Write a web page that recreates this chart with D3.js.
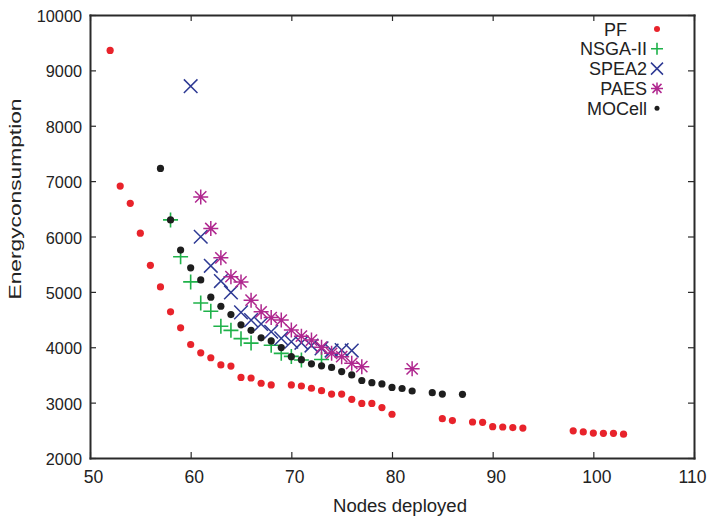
<!DOCTYPE html>
<html>
<head>
<meta charset="utf-8">
<script src="https://cdn.jsdelivr.net/npm/d3@7"></script>
<style>
  body { margin: 0; background: #fff; }
  text { font-family: "Liberation Sans", Arial, sans-serif; fill: #222; }
</style>
</head>
<body>
<svg id="chart" width="709" height="520"></svg>
<script>
// data (nodes deployed -> energy consumption)
const pfX = [52, 53, 54, 55, 56, 57, 58, 59, 60, 61, 62, 63, 64, 65, 66, 67, 68, 70, 71, 72, 73, 74, 75, 76, 77, 78, 79, 80, 85, 86, 88, 89, 90, 91, 92, 93, 98, 99, 100, 101, 102, 103];
const pfY = [9360, 6910, 6600, 6060, 5480, 5090, 4640, 4350, 4050, 3900, 3810, 3680, 3660, 3455, 3445, 3350, 3320, 3320, 3300, 3260, 3215, 3155, 3155, 3060, 2985, 2985, 2910, 2790, 2710, 2675, 2650, 2645, 2565, 2560, 2550, 2540, 2490, 2470, 2450, 2445, 2445, 2430];

const nsgaX = [58, 59, 60, 61, 62, 63, 64, 65, 66, 68, 69, 70, 71, 73];
const nsgaY = [6300, 5635, 5180, 4800, 4650, 4380, 4305, 4155, 4075, 4035, 3890, 3835, 3770, 3780];

const speaX = [60, 61, 62, 63, 64, 65, 66, 67, 68, 69, 70, 71, 72, 73, 74, 75, 76];
const speaY = [8715, 5995, 5470, 5195, 4990, 4630, 4490, 4420, 4280, 4160, 4100, 4080, 4030, 3980, 3940, 3950, 3940];

const paesX = [61, 62, 63, 64, 65, 66, 67, 68, 69, 70, 71, 72, 73, 74, 75, 76, 77, 82];
const paesY = [6715, 6145, 5615, 5275, 5180, 4850, 4640, 4535, 4490, 4310, 4200, 4130, 4000, 3890, 3830, 3710, 3650, 3610];

const mocX = [57, 58, 59, 60, 61, 62, 63, 64, 65, 66, 67, 68, 69, 70, 71, 72, 73, 74, 75, 76, 77, 78, 79, 80, 81, 82, 84, 85, 87];
const mocY = [7230, 6300, 5755, 5435, 5215, 4905, 4740, 4590, 4405, 4305, 4170, 4115, 3995, 3830, 3775, 3700, 3665, 3635, 3560, 3500, 3400, 3360, 3338, 3275, 3255, 3210, 3180, 3155, 3150];

const xTicks = [50, 60, 70, 80, 90, 100, 110];
const yTicks = [2000, 3000, 4000, 5000, 6000, 7000, 8000, 9000, 10000];

const series = [
  { name: "PF", xs: pfX, ys: pfY, shape: "dot", color: "#e8232b" },
  { name: "NSGA-II", xs: nsgaX, ys: nsgaY, shape: "plus", color: "#1fb24a" },
  { name: "SPEA2", xs: speaX, ys: speaY, shape: "cross", color: "#2e3a94" },
  { name: "PAES", xs: paesX, ys: paesY, shape: "star", color: "#b0288f" },
  { name: "MOCell", xs: mocX, ys: mocY, shape: "dot", color: "#1e1e1e" }
];

const svg = d3.select("#chart");
const plotL = 90, plotR = 694, plotT = 15, plotB = 458;

const x = d3.scaleLinear().domain([50, 110]).range([plotL, plotR]);
const y = d3.scaleLinear().domain([2000, 10000]).range([plotB, plotT]);

// axes, ticks pointing inwards on every side
function styleAxis(g) {
  g.selectAll("path").attr("stroke", "#2a2a2a").attr("stroke-width", 2);
  g.selectAll("line").attr("stroke", "#2a2a2a").attr("stroke-width", 1.2);
  g.selectAll("text").attr("fill", "#222")
    .attr("font-family", "'Liberation Sans', Arial, sans-serif");
}

const xAxis = svg.append("g").attr("transform", `translate(0,${plotB})`)
  .call(d3.axisBottom(x).tickValues(xTicks).tickFormat(d3.format("d")).tickSizeInner(-6).tickSizeOuter(0))
  .call(styleAxis);
xAxis.selectAll("text").attr("font-size", 17.5).attr("y", 25).attr("dy", null)
  .attr("dx", d => d === 110 ? -2 : 3);

svg.append("g").attr("transform", `translate(0,${plotT})`)
  .call(d3.axisTop(x).tickValues(xTicks).tickSizeInner(-6).tickSizeOuter(0).tickFormat(""))
  .call(styleAxis);

const yAxis = svg.append("g").attr("transform", `translate(${plotL},0)`)
  .call(d3.axisLeft(y).tickValues(yTicks).tickFormat(d3.format("d")).tickSizeInner(-6).tickSizeOuter(0).tickPadding(8))
  .call(styleAxis);
yAxis.selectAll("text").attr("font-size", 16.3).attr("dy", "0.4em");

svg.append("g").attr("transform", `translate(${plotR},0)`)
  .call(d3.axisRight(y).tickValues(yTicks).tickSizeInner(-6).tickSizeOuter(0).tickFormat(""))
  .call(styleAxis);

svg.selectAll(".domain").attr("stroke-linecap", "square");

// axis titles
svg.append("text")
  .attr("x", 400).attr("y", 512)
  .attr("text-anchor", "middle").attr("font-size", 18)
  .attr("textLength", 134).attr("lengthAdjust", "spacingAndGlyphs")
  .text("Nodes deployed");
svg.append("text")
  .attr("transform", "translate(21,199) rotate(-90)")
  .attr("text-anchor", "middle").attr("font-size", 16.5)
  .attr("textLength", 201).attr("lengthAdjust", "spacingAndGlyphs")
  .text("Energyconsumption");

// marker drawing
function drawMarker(g, shape, color, s) {
  if (shape === "dot") {
    g.append("circle").attr("r", s).attr("fill", color);
  } else if (shape === "plus") {
    g.append("path").attr("d", `M${-s},0H${s}M0,${-s}V${s}`)
      .attr("stroke", color).attr("stroke-width", 1.6).attr("fill", "none");
  } else if (shape === "cross") {
    g.append("path").attr("d", `M${-s},${-s}L${s},${s}M${-s},${s}L${s},${-s}`)
      .attr("stroke", color).attr("stroke-width", 1.5).attr("fill", "none");
  } else if (shape === "star") {
    g.append("path").attr("d", `M${-s},0H${s}M0,${-s}V${s}M${-s * 0.75},${-s * 0.75}L${s * 0.75},${s * 0.75}M${-s * 0.75},${s * 0.75}L${s * 0.75},${-s * 0.75}`)
      .attr("stroke", color).attr("stroke-width", 1.5).attr("fill", "none");
  }
}

const markerSize = { dot: 3.6, plus: 7.5, cross: 6.8, star: 7.5 };
const plot = svg.append("g");

series.forEach(s => {
  s.xs.forEach((xv, i) => {
    const g = plot.append("g").attr("transform", `translate(${x(xv)},${y(s.ys[i])})`);
    drawMarker(g, s.shape, s.color, markerSize[s.shape]);
  });
});

// legend
const legendSize = { dot: 3, plus: 6, cross: 6, star: 6 };
const legend = svg.append("g");
series.forEach((s, i) => {
  const ly = 29 + i * 19.8;
  legend.append("text")
    .attr("x", s.name === "PF" ? 627 : 647).attr("y", ly + 6.5)
    .attr("text-anchor", "end").attr("font-size", 18)
    .text(s.name);
  const g = legend.append("g").attr("transform", `translate(657,${ly})`);
  drawMarker(g, s.shape, s.color, s.name === "MOCell" ? 2.5 : legendSize[s.shape]);
});
</script>
</body>
</html>
